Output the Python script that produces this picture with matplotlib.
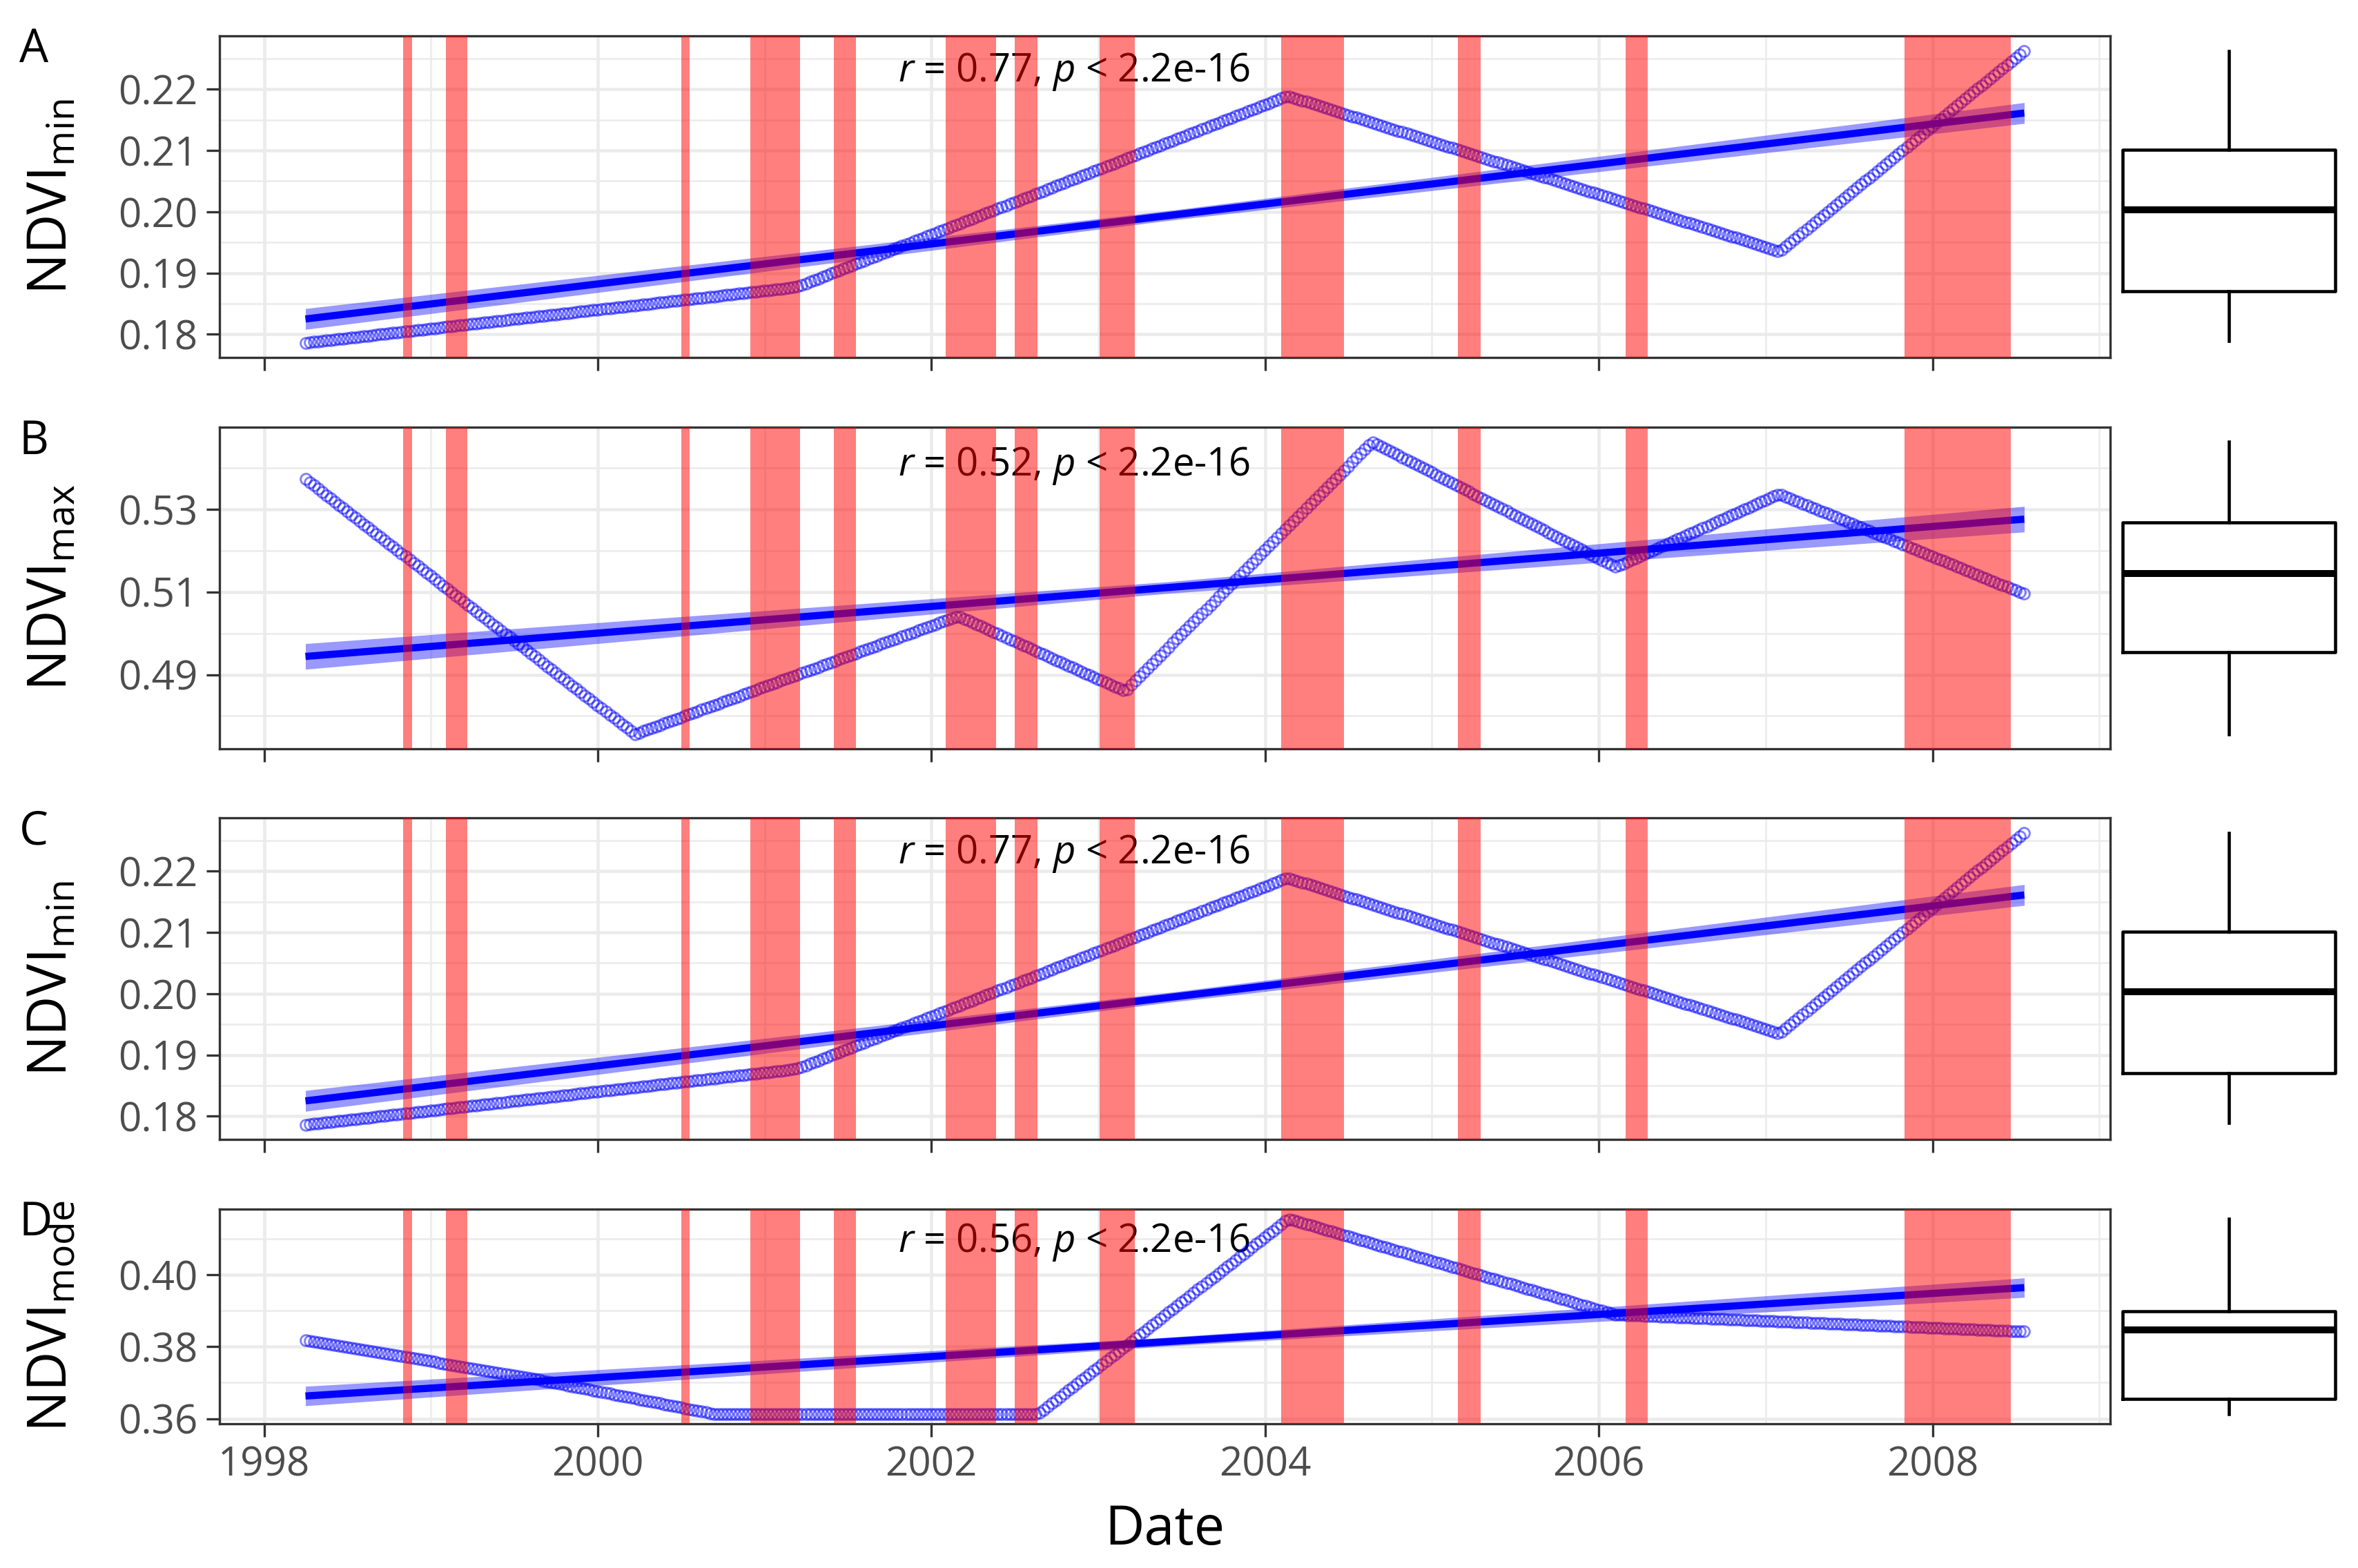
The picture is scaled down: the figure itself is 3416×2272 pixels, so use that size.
#!/usr/bin/env python3
"""NDVI min / max / mode trends 1998-2008 with drought periods and boxplots."""

import matplotlib
matplotlib.use("Agg")
import matplotlib.pyplot as plt
import numpy as np
from matplotlib.patheffects import AbstractPathEffect
from matplotlib.path import Path
from matplotlib.transforms import Affine2D, IdentityTransform

# --- data -------------------------------------------------------------------
# NDVI series break points (decimal year, value)
MIN_DATES = [1998.248, 2001.19, 2004.135, 2007.083, 2008.55]
MIN_VALS = [0.1786, 0.1877, 0.2189, 0.1935, 0.2263]

MAX_DATES = [1998.248, 2000.223, 2002.16, 2003.16, 2004.642, 2006.10, 2007.08, 2008.55]
MAX_VALS = [0.5373, 0.4756, 0.5042, 0.4860, 0.5463, 0.5160, 0.5337, 0.5095]

MODE_DATES = [1998.248, 1999.58, 2000.70, 2002.64, 2004.14, 2006.10, 2008.55]
MODE_VALS = [0.3818, 0.3714, 0.3613, 0.3613, 0.4155, 0.3889, 0.3842]

# linear fit (start, end) and its confidence half-width (start, middle, end)
FIT_DATES = [1998.248, 2008.55]
CI_DATES = [1998.248, 2003.40, 2008.55]
MIN_FIT = [0.1825, 0.2161]
MIN_CI = [0.0017, 0.0008, 0.0017]
MAX_FIT = [0.4944, 0.5276]
MAX_CI = [0.0031, 0.0014, 0.0031]
MODE_FIT = [0.3663, 0.3964]
MODE_CI = [0.0027, 0.0012, 0.0027]

# boxplot stats: whisker low, Q1, median, Q3, whisker high
MIN_BOX = [0.1789, 0.1870, 0.2003, 0.2101, 0.2262]
MAX_BOX = [0.4756, 0.4954, 0.5145, 0.5268, 0.5463]
MODE_BOX = [0.3612, 0.3655, 0.3846, 0.3899, 0.4155]

MIN_R = "0.77"
MAX_R = "0.52"
MODE_R = "0.56"

# highlighted periods (start, end) in decimal years
SPAN_START = [1998.835, 1999.092, 2000.501, 2000.915, 2001.415, 2002.084,
              2002.500, 2003.006, 2004.096, 2005.156, 2006.159, 2007.833]
SPAN_END = [1998.888, 1999.219, 2000.551, 2001.214, 2001.549, 2002.387,
            2002.636, 2003.218, 2004.474, 2005.293, 2006.293, 2008.471]

X_TICKS = [1998, 2000, 2002, 2004, 2006, 2008]
X_MINOR = [1999, 2001, 2003, 2005, 2007, 2009]
MIN_TICKS = [0.18, 0.19, 0.20, 0.21, 0.22]
MIN_MINOR = [0.185, 0.195, 0.205, 0.215, 0.225]
MAX_TICKS = [0.49, 0.51, 0.53]
MAX_MINOR = [0.48, 0.50, 0.52, 0.54]
MODE_TICKS = [0.36, 0.38, 0.40]
MODE_MINOR = [0.37, 0.39, 0.41]

plt.rcParams.update({
    "font.family": "Open Sans",
    "mathtext.fontset": "custom",
    "mathtext.rm": "Open Sans",
    "mathtext.it": "Open Sans:italic",
})

W, H = 3416, 2272
GRID = "#EBEBEB"
FRAME = "#333333"


class RingTrail(AbstractPathEffect):
    """Draw hollow rings along a line, one every `step` points in x."""

    def __init__(self, step=1.45, size=3.8, lw=0.7, color="blue", alpha=0.5):
        super().__init__()
        self.step, self.size, self.lw = step, size, lw
        self.color, self.alpha = color, alpha

    def draw_path(self, renderer, gc, tpath, affine, rgbFace=None):
        xy = affine.transform(tpath.vertices)
        dx = renderer.points_to_pixels(self.step)
        xs = np.arange(xy[0, 0], xy[-1, 0] + 0.01, dx)
        ys = np.interp(xs, xy[:, 0], xy[:, 1])
        gc0 = renderer.new_gc()
        gc0.copy_properties(gc)
        gc0.set_foreground(self.color)
        gc0.set_alpha(self.alpha)
        gc0.set_linewidth(self.lw)
        rad = renderer.points_to_pixels(self.size) / 2
        renderer.draw_markers(gc0, Path.unit_circle(), Affine2D().scale(rad),
                              Path(np.column_stack([xs, ys])), IdentityTransform(), None)
        gc0.restore()


def px_rect(left, top, right, bottom):
    return [left / W, 1 - bottom / H, (right - left) / W, (bottom - top) / H]


def main():
    panels = [
        ("A", r"NDVI$_{\mathregular{min}}$", MIN_DATES, MIN_VALS, MIN_FIT, MIN_CI,
         MIN_BOX, MIN_R, MIN_TICKS, MIN_MINOR, (52, 518), 0.888),
        ("B", r"NDVI$_{\mathregular{max}}$", MAX_DATES, MAX_VALS, MAX_FIT, MAX_CI,
         MAX_BOX, MAX_R, MAX_TICKS, MAX_MINOR, (619, 1085), 0.879),
        ("C", r"NDVI$_{\mathregular{min}}$", MIN_DATES, MIN_VALS, MIN_FIT, MIN_CI,
         MIN_BOX, MIN_R, MIN_TICKS, MIN_MINOR, (1185, 1651), 0.888),
        ("D", r"NDVI$_{\mathregular{mode}}$", MODE_DATES, MODE_VALS, MODE_FIT, MODE_CI,
         MODE_BOX, MODE_R, MODE_TICKS, MODE_MINOR, (1752, 2063), 0.846),
    ]

    fig = plt.figure(figsize=(W / 300, H / 300), dpi=300)

    xr = MIN_DATES[-1] - MIN_DATES[0]
    xlim = (MIN_DATES[0] - 0.05 * xr, MIN_DATES[-1] + 0.05 * xr)

    for i, (letter, ylabel, dates, vals, fit, ci, box, r, ticks, minor,
            (top, bottom), text_y) in enumerate(panels):
        ax = fig.add_axes(px_rect(318, top, 3057, bottom))
        bax = fig.add_axes(px_rect(3061, top, 3399, bottom))

        # y limits: data range + 5 % (ggplot style)
        lo = min(min(vals), fit[0] - ci[0])
        hi = max(max(vals), fit[1] + ci[-1])
        yr = hi - lo
        ylim = (lo - 0.05 * yr, hi + 0.05 * yr)

        # grid
        ax.set_xticks(X_TICKS)
        ax.set_xticks(X_MINOR, minor=True)
        ax.set_yticks(ticks)
        ax.set_yticks(minor, minor=True)
        ax.set_yticklabels([f"{t:.2f}" for t in ticks])
        ax.grid(which="major", color=GRID, lw=1.1, zorder=0)
        ax.grid(which="minor", color=GRID, lw=0.6, zorder=0)
        ax.set_axisbelow(True)

        # confidence band + fit line
        ax.fill_between(CI_DATES,
                        np.interp(CI_DATES, FIT_DATES, fit) - np.array(ci),
                        np.interp(CI_DATES, FIT_DATES, fit) + np.array(ci),
                        color="blue", alpha=0.4, lw=0, zorder=2)
        ax.plot(FIT_DATES, fit, color="blue", lw=2.5, solid_capstyle="butt", zorder=3)

        # the series itself, drawn as a trail of open circles
        ax.plot(dates, vals, color="blue", zorder=3, path_effects=[RingTrail()])

        ax.text(0.359, text_y, rf"$r$ = {r}, $p$ < 2.2e-16", transform=ax.transAxes,
                ha="left", va="center", fontsize=13.5, color="black", zorder=2)

        # highlighted periods on top of everything
        for s, e in zip(SPAN_START, SPAN_END):
            ax.axvspan(s, e, color="red", alpha=0.5, lw=0, zorder=5)

        ax.set_xlim(*xlim)
        ax.set_ylim(*ylim)
        for sp in ax.spines.values():
            sp.set_color(FRAME)
            sp.set_linewidth(0.8)
        ax.tick_params(which="major", length=4.5, width=0.8, color=FRAME,
                       labelsize=14, labelcolor="#4D4D4D", pad=3)
        ax.tick_params(which="minor", length=0)
        if i < 3:
            ax.set_xticklabels([])
        else:
            ax.set_xticklabels([str(t) for t in X_TICKS])
            ax.set_xlabel("Date", fontsize=19, labelpad=6)

        ax.set_ylabel(ylabel, fontsize=19)
        ax.yaxis.set_label_coords(-0.074, 0.5)

        fig.text(28 / W, 1 - (top - 13) / H, letter, fontsize=16, ha="left", va="top")

        # boxplot of the series
        bax.bxp([{"whislo": box[0], "q1": box[1], "med": box[2], "q3": box[3],
                  "whishi": box[4], "fliers": []}],
                positions=[1], widths=0.75, showcaps=False,
                boxprops=dict(color="black", lw=1.1),
                whiskerprops=dict(color="black", lw=1.1),
                medianprops=dict(color="black", lw=2.4, solid_capstyle="butt"))
        bax.set_xlim(0.592, 1.413)
        bax.set_ylim(*ylim)
        bax.axis("off")

    fig.savefig("out.png", dpi=300)
    plt.close(fig)


if __name__ == "__main__":
    main()
